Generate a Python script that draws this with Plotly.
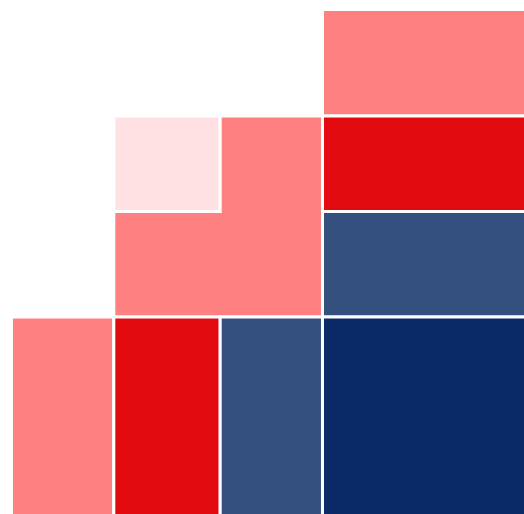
import plotly.graph_objects as go

# Grid boundaries (in grid units) of the tile layout
x_edges = [0, 1, 2.04, 3.04, 5.05]
y_edges = [0, 1.97, 3.01, 3.95, 5.0]

# Regions: outline as (column-edge index, row-edge index) vertices, and category
regions = ["A", "B", "C", "D", "E", "F", "G", "H", "I"]
outlines = [
    [(3, 3), (4, 3), (4, 4), (3, 4)],
    [(3, 2), (4, 2), (4, 3), (3, 3)],
    [(3, 1), (4, 1), (4, 2), (3, 2)],
    [(3, 0), (4, 0), (4, 1), (3, 1)],
    [(1, 2), (2, 2), (2, 3), (1, 3)],
    [(1, 1), (3, 1), (3, 3), (2, 3), (2, 2), (1, 2)],
    [(0, 0), (1, 0), (1, 1), (0, 1)],
    [(1, 0), (2, 0), (2, 1), (1, 1)],
    [(2, 0), (3, 0), (3, 1), (2, 1)],
]
categories = ["Lean R", "Strong R", "Lean D", "Strong D", "Tilt R",
              "Lean R", "Lean R", "Strong R", "Lean D"]

category_colors = {
    "Strong R": "#E30A0F",
    "Lean R": "#FF8080",
    "Tilt R": "#FFE1E3",
    "Lean D": "#34507F",
    "Strong D": "#0B2966",
}

fig = go.Figure()
for name, outline, cat in zip(regions, outlines, categories):
    xs = [x_edges[i] for i, j in outline] + [x_edges[outline[0][0]]]
    ys = [y_edges[j] for i, j in outline] + [y_edges[outline[0][1]]]
    fig.add_trace(go.Scatter(
        x=xs, y=ys, mode="lines", fill="toself",
        fillcolor=category_colors[cat],
        line=dict(color="white", width=3),
        name=name, hoverinfo="text", text=f"{name}: {cat}",
        showlegend=False,
    ))

fig.update_layout(
    width=524, height=514,
    margin=dict(l=0, r=0, t=0, b=0),
    paper_bgcolor="white", plot_bgcolor="white",
    xaxis=dict(range=[-0.1124, 5.0098], visible=False, fixedrange=True),
    yaxis=dict(range=[0.0296, 5.0936], visible=False, fixedrange=True),
)
fig.write_html(
    "out.html",
    config={"displayModeBar": False},
    post_script="document.body.style.margin='0';document.body.style.overflow='hidden';",
)
